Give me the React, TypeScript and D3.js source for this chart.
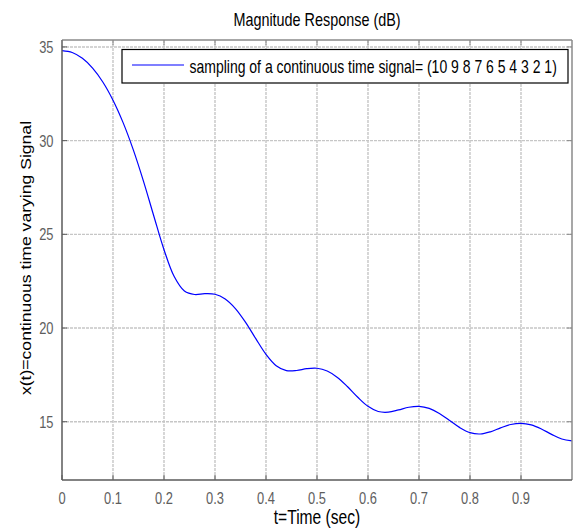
import React from "react";
import * as d3 from "d3";

// Text content
const title = "Magnitude Response (dB)";
const xLabel = "t=Time (sec)";
const yLabel = "x(t)=continuous time varying Signal";
const legendLabel = "sampling of a continuous time signal= (10 9 8 7 6 5 4 3 2 1)";

// Normalized frequency samples and magnitude in dB
const freq = [
  0, 0.02, 0.04, 0.06, 0.08, 0.1, 0.12, 0.14, 0.16, 0.18,
  0.2, 0.22, 0.24, 0.26, 0.28, 0.3, 0.32, 0.34, 0.36, 0.38,
  0.4, 0.42, 0.44, 0.46, 0.48, 0.5, 0.52, 0.54, 0.56, 0.58,
  0.6, 0.62, 0.64, 0.66, 0.68, 0.7, 0.72, 0.74, 0.76, 0.78,
  0.8, 0.82, 0.84, 0.86, 0.88, 0.9, 0.92, 0.94, 0.96, 0.98, 1.0,
];
const magnitudeDb = [
  34.807, 34.704, 34.393, 33.871, 33.129, 32.157, 30.947, 29.493, 27.814, 25.98,
  24.18, 22.748, 21.976, 21.79, 21.833, 21.802, 21.551, 21.04, 20.302, 19.431,
  18.595, 17.99, 17.726, 17.733, 17.831, 17.853, 17.705, 17.363, 16.864, 16.304,
  15.82, 15.543, 15.508, 15.63, 15.772, 15.819, 15.71, 15.443, 15.068, 14.685,
  14.415, 14.345, 14.462, 14.67, 14.85, 14.916, 14.831, 14.612, 14.325, 14.078, 13.979,
];

const xTicks = [0, 0.1, 0.2, 0.3, 0.4, 0.5, 0.6, 0.7, 0.8, 0.9];
const yTicks = [15, 20, 25, 30, 35];
const xDomain = [0, 1];
const yDomain = [11.89, 35.37];

const W = 576;
const H = 529;
const box = { left: 62, right: 572, top: 40, bottom: 480 };
const SX = 0.8; // horizontal glyph squeeze
const FONT = "'Liberation Sans', Arial, Helvetica, sans-serif";

function Txt(props: {
  x: number;
  y: number;
  size: number;
  anchor?: string;
  fill?: string;
  sx?: number;
  children: React.ReactNode;
}) {
  const { x, y, size, anchor = "start", fill = "#000", sx = SX, children } = props;
  return (
    <text
      transform={`translate(${x},${y}) scale(${sx},1)`}
      fontSize={size}
      fontFamily={FONT}
      textAnchor={anchor}
      fill={fill}
    >
      {children}
    </text>
  );
}

export default function App() {
  const x = d3.scaleLinear().domain(xDomain).range([box.left, box.right]);
  const y = d3.scaleLinear().domain(yDomain).range([box.bottom, box.top]);

  const line = d3
    .line<number>()
    .x((_, i) => x(freq[i]))
    .y((d) => y(d))
    .curve(d3.curveCatmullRom.alpha(0.5));

  const tickLen = 5;
  const axisColor = "#5a5a5a";
  const frameColor = "#8a8a8a";
  const gridColor = "#c6c6c6";
  const tickText = "#5e5e5e";

  return (
    <svg
      width={W}
      height={H}
      viewBox={`0 0 ${W} ${H}`}
      style={{ position: "absolute", left: 0, top: 0, background: "#fff" }}
    >
      <rect x={0} y={0} width={W} height={H} fill="#fff" />

      {/* grid */}
      {xTicks
        .filter((t) => t > 0)
        .map((t) => (
          <line
            key={`gx${t}`}
            x1={x(t)}
            x2={x(t)}
            y1={box.top}
            y2={box.bottom}
            stroke={gridColor}
            strokeWidth={1.4}
            strokeDasharray="3,1"
          />
        ))}
      {yTicks.map((t) => (
        <line
          key={`gy${t}`}
          x1={box.left}
          x2={box.right}
          y1={y(t)}
          y2={y(t)}
          stroke={gridColor}
          strokeWidth={1.4}
          strokeDasharray="3,1"
        />
      ))}

      {/* data curve */}
      <path d={line(magnitudeDb) ?? ""} fill="none" stroke="#0000ff" strokeWidth={1.2} />

      {/* axes box */}
      <line x1={box.left} x2={box.right} y1={box.top} y2={box.top} stroke={frameColor} strokeWidth={1.5} />
      <line x1={box.right} x2={box.right} y1={box.top} y2={box.bottom} stroke={frameColor} strokeWidth={1.5} />
      <line x1={box.left} x2={box.left} y1={box.top} y2={box.bottom} stroke={axisColor} strokeWidth={1.5} />
      <line x1={box.left} x2={box.right} y1={box.bottom} y2={box.bottom} stroke={axisColor} strokeWidth={1.5} />

      {/* tick marks */}
      {xTicks.map((t) => (
        <g key={`tx${t}`}>
          <line x1={x(t)} x2={x(t)} y1={box.bottom} y2={box.bottom - tickLen} stroke={axisColor} strokeWidth={1} />
          <line x1={x(t)} x2={x(t)} y1={box.top} y2={box.top + tickLen} stroke={frameColor} strokeWidth={1} />
        </g>
      ))}
      {yTicks.map((t) => (
        <g key={`ty${t}`}>
          <line x1={box.left} x2={box.left + tickLen} y1={y(t)} y2={y(t)} stroke={axisColor} strokeWidth={1} />
          <line x1={box.right} x2={box.right - tickLen} y1={y(t)} y2={y(t)} stroke={frameColor} strokeWidth={1} />
        </g>
      ))}

      {/* tick labels */}
      {xTicks.map((t) => (
        <Txt key={`lx${t}`} x={x(t)} y={504} size={16.5} sx={0.78} anchor="middle" fill={tickText}>
          {String(t)}
        </Txt>
      ))}
      {yTicks.map((t) => (
        <Txt key={`ly${t}`} x={53.5} y={y(t) + 6} size={16.5} sx={0.78} anchor="end" fill={tickText}>
          {String(t)}
        </Txt>
      ))}

      {/* legend */}
      <rect x={122} y={49.5} width={446} height={33.5} fill="#fff" stroke="#000" strokeWidth={1.2} />
      <line x1={132} x2={184} y1={65} y2={65} stroke="#0000ff" strokeWidth={1.2} />
      <Txt x={189.5} y={72.5} size={17.5}>
        {legendLabel}
      </Txt>

      {/* title and axis labels */}
      <Txt x={(box.left + box.right) / 2} y={26} size={18} anchor="middle">
        {title}
      </Txt>
      <Txt x={(box.left + box.right) / 2} y={524} size={19.5} anchor="middle">
        {xLabel}
      </Txt>
      <text
        transform={`translate(31,258) scale(${SX},1) rotate(-90)`}
        fontSize={17.6}
        fontFamily={FONT}
        textAnchor="middle"
        fill="#000"
      >
        {yLabel}
      </text>
    </svg>
  );
}
